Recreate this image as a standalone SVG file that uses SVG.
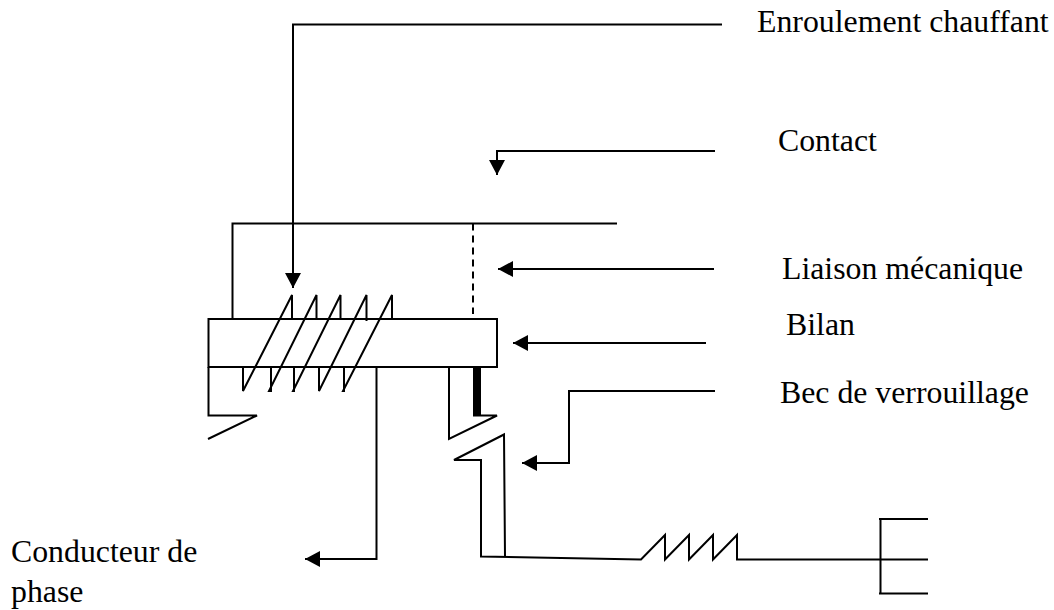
<svg xmlns="http://www.w3.org/2000/svg" width="1054" height="610" viewBox="0 0 1054 610">
<style>
.l{fill:none;stroke:#000;stroke-width:2;stroke-linejoin:miter}
.a{fill:none;stroke:#000;stroke-width:2;marker-end:url(#h)}
.t{font-family:"Liberation Serif","Times New Roman",serif;font-size:31.800px;fill:#000}
</style>
<defs><marker id="h" markerUnits="userSpaceOnUse" markerWidth="16" markerHeight="16" refX="15" refY="8" orient="auto"><path d="M0 0L15 8L0 16Z" fill="#000"/></marker></defs>
<rect width="1054" height="610" fill="#fff"/>
<g id="connectors">
<path class="a" d="M722 24.500H293V288"/>
<path class="a" d="M715 151H497V175"/>
<path class="a" d="M714 269H498"/>
<path class="a" d="M706 343H513"/>
<path class="a" d="M715 391H569V463H522"/>
<path class="a" d="M376.500 367V559H305"/>
</g>
<g id="bilan"><rect class="l" x="208.500" y="319" width="288.500" height="48"/></g>
<g id="contact-bar"><path class="l" d="M232.500 319V223.500H617"/></g>
<g id="liaison"><path class="l" d="M473 223.500V314" stroke-dasharray="7 5"/></g>
<g id="enroulement"><path class="l" d="M243 367V391L292 295V319M271 367V391H269L316.500 295V319M294 367V391H293L340.500 295V319M319 367V391L366.500 295V321M344 367V391H343L392 295V319"/></g>
<g id="bec-gauche"><path class="l" d="M208.500 367V415.500H257L208 439"/></g>
<g id="bec-droit"><path class="l" d="M449 367V439L497 415.500H473"/><rect x="473" y="367" width="8" height="48.500" fill="#000"/></g>
<g id="verrou"><path class="l" d="M505 556.500L504 434.500L454 460H481V556.500L641 559.500L665 535V559.500L689 535V559.500L713 535V559.500L737 535V559.500H880"/></g>
<g id="prise"><path class="l" d="M880.500 519V593.500M879 519H928M880 559.500H928M879 593.500H928"/></g>
<g id="labels">
<text class="t" x="757" y="32">Enroulement chauffant</text>
<text class="t" x="778" y="151">Contact</text>
<text class="t" x="782" y="279">Liaison mécanique</text>
<text class="t" x="786" y="335">Bilan</text>
<text class="t" x="780" y="403">Bec de verrouillage</text>
<text class="t" x="11" y="562">Conducteur de</text>
<text class="t" x="11" y="602">phase</text>
</g>
</svg>
